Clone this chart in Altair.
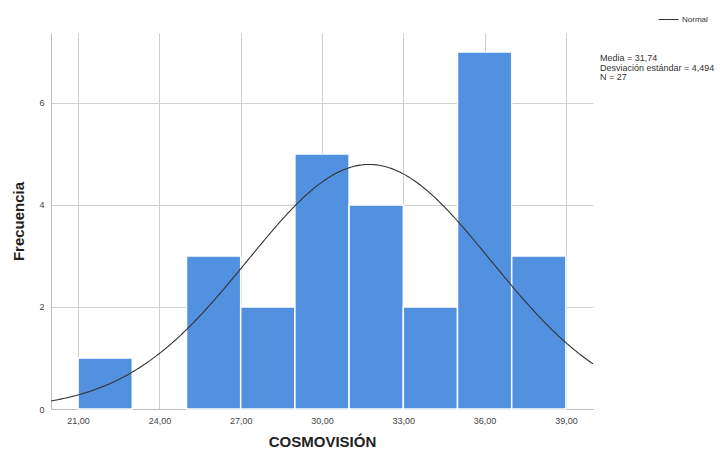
import altair as alt
import pandas as pd

bin_start = [21, 23, 25, 27, 29, 31, 33, 35, 37]
bin_end = [23, 25, 27, 29, 31, 33, 35, 37, 39]
counts = [1, 0, 3, 2, 5, 4, 2, 7, 3]

media = 31.74
desv = 4.494
n = 27
bin_width = 2

bars_df = pd.DataFrame({"start": bin_start, "end": bin_end, "count": counts})
bars_df = bars_df[bars_df["count"] > 0]

FONT = "Liberation Sans"
W, H = 542, 376
PL, PT = 43, 25
PR = 728 - 16 - PL - W
PB = 457 - 16 - PT - H
xscale = alt.Scale(domain=[20, 40], nice=False, zero=False)
yscale = alt.Scale(domain=[0, 7.37], nice=False)

xaxis = alt.Axis(values=[21, 24, 27, 30, 33, 36, 39], labelExpr="replace(format(datum.value, '.2f'), '.', ',')",
                 title="COSMOVISIÓN", titleFontSize=15, titleFontWeight="bold", titleFont=FONT, titlePadding=9,
                 titleColor="#222",
                 labelFont=FONT, labelFontSize=9, labelColor="#444", ticks=False, labelPadding=7,
                 grid=True, gridColor="#cfcfcf", domainColor="#bdbdbd")
yaxis = alt.Axis(values=[0, 2, 4, 6], format="d",
                 title="Frecuencia", titleFontSize=15, titleFontWeight="bold", titleFont=FONT, titlePadding=12,
                 titleColor="#222",
                 labelFont=FONT, labelFontSize=9, labelColor="#444", ticks=False, labelPadding=7,
                 grid=True, gridColor="#cfcfcf", domainColor="#bdbdbd")

bars = alt.Chart(bars_df).mark_rect(color="#5290E0", stroke="white", strokeWidth=1.5).encode(
    x=alt.X("start:Q", scale=xscale, axis=xaxis),
    x2="end:Q",
    y=alt.Y("count:Q", scale=yscale, axis=yaxis),
    y2=alt.datum(0),
)

curve = alt.Chart(alt.sequence(20, 40.001, 0.05, as_="v")).transform_calculate(
    dens=f"{n * bin_width} * exp(-0.5 * pow((datum.v - {media}) / {desv}, 2)) / ({desv} * sqrt(2 * PI))",
    serie="'Normal'",
).mark_line(strokeWidth=1.1).encode(
    x=alt.X("v:Q", scale=xscale),
    y=alt.Y("dens:Q", scale=yscale),
    color=alt.Color("serie:N", scale=alt.Scale(range=["#333333"]),
                    legend=alt.Legend(title=None, orient="none", legendX=607, legendY=-24, padding=0,
                                      symbolType="stroke", symbolStrokeWidth=1, symbolSize=400,
                                      labelFont=FONT, labelFontSize=8, labelColor="#333", labelOffset=3)),
)

stats_text = "\n".join([f"Media = {str(media).replace('.', ',')}",
                        f"Desviación estándar = {str(desv).replace('.', ',')}",
                        f"N = {n}"])
stats = alt.Chart(pd.DataFrame({"t": [stats_text]})).mark_text(
    align="left", baseline="middle", font=FONT, fontSize=9, color="#333", lineBreak="\n", lineHeight=9.5
).encode(
    x=alt.value(W + 7),
    y=alt.value(25),
    text="t:N",
)

chart = alt.layer(bars, curve, stats).properties(
    width=W, height=H,
    title=alt.TitleParams("Histograma", font=FONT, fontSize=14, fontWeight="bold", color="#222", offset=7, anchor="middle"),
    autosize=alt.AutoSizeParams(type="none"),
    padding={"left": PL, "top": PT, "right": PR, "bottom": PB},
).configure_view(stroke=None)

chart.save("out.html", embed_options={"renderer": "svg", "actions": False})
